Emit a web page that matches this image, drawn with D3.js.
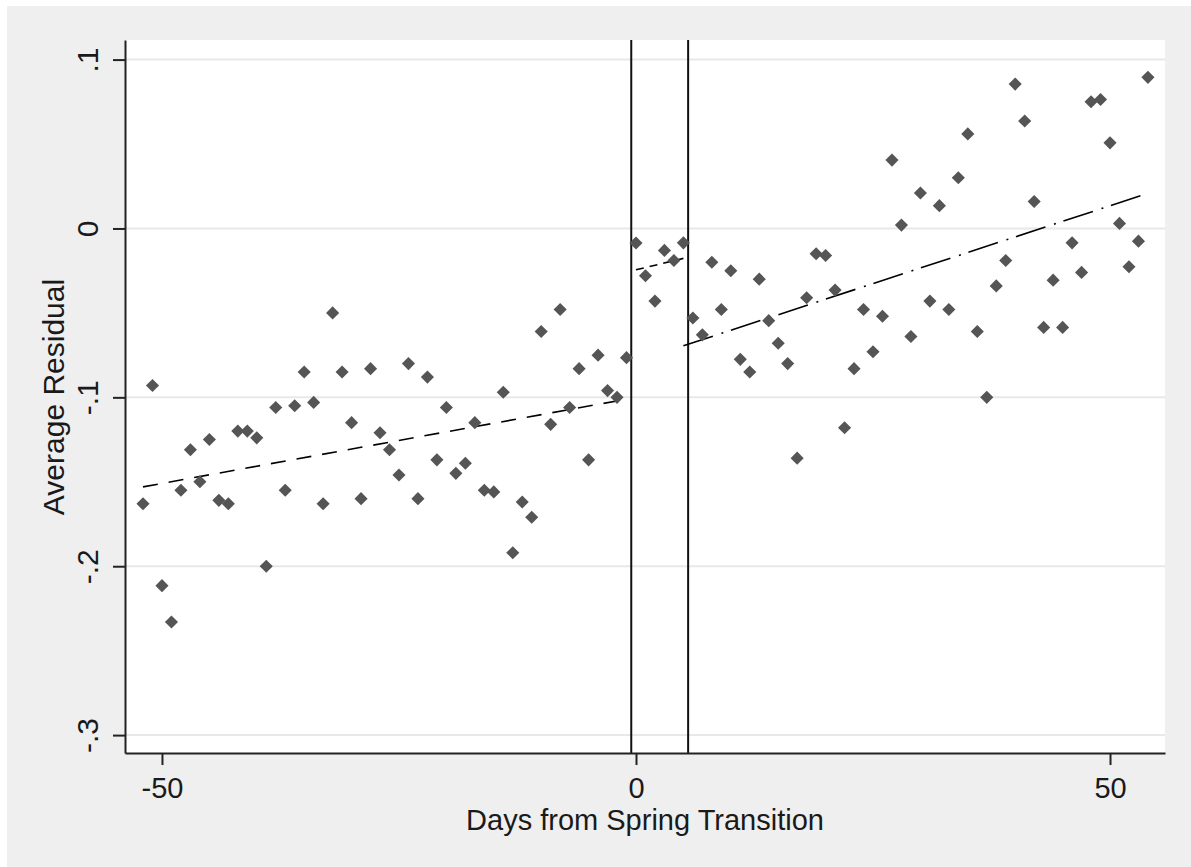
<!DOCTYPE html>
<html>
<head>
<meta charset="utf-8">
<script src="https://cdn.jsdelivr.net/npm/d3@7"></script>
<style>
  body { margin: 0; background: #fff; }
  text { font-family: "Liberation Sans", Arial, sans-serif; fill: #1a1a1a; }
</style>
</head>
<body>
<div id="root"></div>
<script>
// days from spring transition, one point per day
const daysBefore = d3.range(-52, 0);
const residBefore = [
  -0.163, -0.093, -0.2115, -0.233, -0.155, -0.131, -0.150, -0.125, -0.161, -0.163,
  -0.120, -0.120, -0.124, -0.200, -0.106, -0.155, -0.105, -0.085, -0.103, -0.163,
  -0.050, -0.085, -0.115, -0.160, -0.083, -0.121, -0.131, -0.146, -0.080, -0.160,
  -0.088, -0.137, -0.106, -0.145, -0.139, -0.115, -0.155, -0.156, -0.097, -0.192,
  -0.162, -0.171, -0.061, -0.116, -0.048, -0.106, -0.083, -0.137, -0.075, -0.096,
  -0.100, -0.0765
];
const daysMiddle = [0, 1, 2, 3, 4, 5];
const residMiddle = [-0.0086, -0.028, -0.043, -0.013, -0.019, -0.0085];
const daysAfter = d3.range(6, 55);
const residAfter = [
  -0.053, -0.063, -0.020, -0.048, -0.025, -0.0775, -0.085, -0.030, -0.0546, -0.068,
  -0.080, -0.136, -0.041, -0.015, -0.016, -0.0365, -0.118, -0.083, -0.048, -0.073,
  -0.052, 0.0405, 0.002, -0.064, 0.021, -0.043, 0.0135, -0.048, 0.030, 0.056,
  -0.061, -0.100, -0.034, -0.019, 0.0855, 0.0636, 0.016, -0.0586, -0.0306, -0.0586,
  -0.0085, -0.026, 0.075, 0.0764, 0.0507, 0.003, -0.0227, -0.0075, 0.0895
];

// fitted lines: [startDay, endDay], [startValue, endValue]
const fitBeforeX = [-52, -1];
const fitBeforeY = [-0.153, -0.1011];
const fitMiddleX = [0, 5];
const fitMiddleY = [-0.0245, -0.0177];
const fitAfterX = [5, 54];
const fitAfterY = [-0.0695, 0.0208];

const cutoffs = [-0.5, 5.5];
const xTicks = [-50, 0, 50];
const yTicks = [0.1, 0, -0.1, -0.2, -0.3];
const yTickLabels = [".1", "0", "-.1", "-.2", "-.3"];

const width = 1191, height = 867;
const plot = { left: 125, right: 1165, top: 40, bottom: 753 };

const x = d3.scaleLinear().domain([-53.9, 55.8]).range([plot.left, plot.right]);
const y = d3.scaleLinear().domain([-0.3106, 0.1116]).range([plot.bottom, plot.top]);

const svg = d3.select("#root").append("svg")
  .attr("width", width)
  .attr("height", height);

// outer graph region
svg.append("rect")
  .attr("x", 7).attr("y", 6)
  .attr("width", width - 7).attr("height", height - 6)
  .attr("fill", "#efefef");

// plot region
svg.append("rect")
  .attr("x", plot.left).attr("y", plot.top)
  .attr("width", plot.right - plot.left).attr("height", plot.bottom - plot.top)
  .attr("fill", "#fff");

// grid
svg.append("g")
  .selectAll("line")
  .data(yTicks)
  .join("line")
  .attr("x1", plot.left).attr("x2", plot.right)
  .attr("y1", d => y(d)).attr("y2", d => y(d))
  .attr("stroke", "#e8e8e8")
  .attr("stroke-width", 2);

// vertical cutoff lines
svg.append("g")
  .selectAll("line")
  .data(cutoffs)
  .join("line")
  .attr("x1", d => x(d)).attr("x2", d => x(d))
  .attr("y1", plot.top).attr("y2", plot.bottom)
  .attr("stroke", "#111")
  .attr("stroke-width", 2);

// fit lines
const fits = [
  { xs: fitBeforeX, ys: fitBeforeY, dash: "15,11" },
  { xs: fitMiddleX, ys: fitMiddleY, dash: "8,6" },
  { xs: fitAfterX, ys: fitAfterY, dash: "31,9,2,8" }
];
svg.append("g")
  .selectAll("line")
  .data(fits)
  .join("line")
  .attr("x1", d => x(d.xs[0])).attr("x2", d => x(d.xs[1]))
  .attr("y1", d => y(d.ys[0])).attr("y2", d => y(d.ys[1]))
  .attr("stroke", "#000")
  .attr("stroke-width", 1.6)
  .attr("stroke-dasharray", d => d.dash);

// points
const points = [
  ...daysBefore.map((d, i) => [d, residBefore[i]]),
  ...daysMiddle.map((d, i) => [d, residMiddle[i]]),
  ...daysAfter.map((d, i) => [d, residAfter[i]])
];
const diamond = d3.symbol().type(d3.symbolSquare).size(86);
svg.append("g")
  .selectAll("path")
  .data(points)
  .join("path")
  .attr("d", diamond)
  .attr("transform", d => `translate(${x(d[0])},${y(d[1])}) rotate(45)`)
  .attr("fill", "#555");

// x axis (plain hyphen for negatives, like the original)
svg.append("g")
  .attr("transform", `translate(0,${plot.bottom})`)
  .call(d3.axisBottom(x).tickValues(xTicks).tickSize(12).tickPadding(12).tickSizeOuter(0)
    .tickFormat(d => String(d)))
  .call(g => g.select(".domain").attr("stroke", "#222").attr("stroke-width", 2))
  .call(g => g.selectAll(".tick line").attr("stroke", "#222").attr("stroke-width", 2))
  .call(g => g.selectAll(".tick text")
    .attr("font-size", 29)
    .attr("font-family", "Liberation Sans, Arial, sans-serif")
    .attr("fill", "#1a1a1a"));

// y axis
svg.append("g")
  .attr("transform", `translate(${plot.left},0)`)
  .call(d3.axisLeft(y).tickValues(yTicks).tickSize(12).tickSizeOuter(0)
    .tickFormat((d, i) => yTickLabels[i]))
  .call(g => g.select(".domain").attr("stroke", "#222").attr("stroke-width", 2))
  .call(g => g.selectAll(".tick line").attr("stroke", "#222").attr("stroke-width", 2))
  .call(g => g.selectAll(".tick text")
    .attr("x", null).attr("dy", null)
    .attr("text-anchor", "middle")
    .attr("transform", "translate(-27,0) rotate(-90)")
    .attr("font-size", 30)
    .attr("font-family", "Liberation Sans, Arial, sans-serif")
    .attr("fill", "#1a1a1a"));

// axis titles
svg.append("text")
  .attr("x", 645).attr("y", 830)
  .attr("text-anchor", "middle")
  .attr("font-size", 29)
  .text("Days from Spring Transition");

svg.append("text")
  .attr("transform", "translate(64,397) rotate(-90)")
  .attr("text-anchor", "middle")
  .attr("font-size", 30)
  .text("Average Residual");
</script>
</body>
</html>
